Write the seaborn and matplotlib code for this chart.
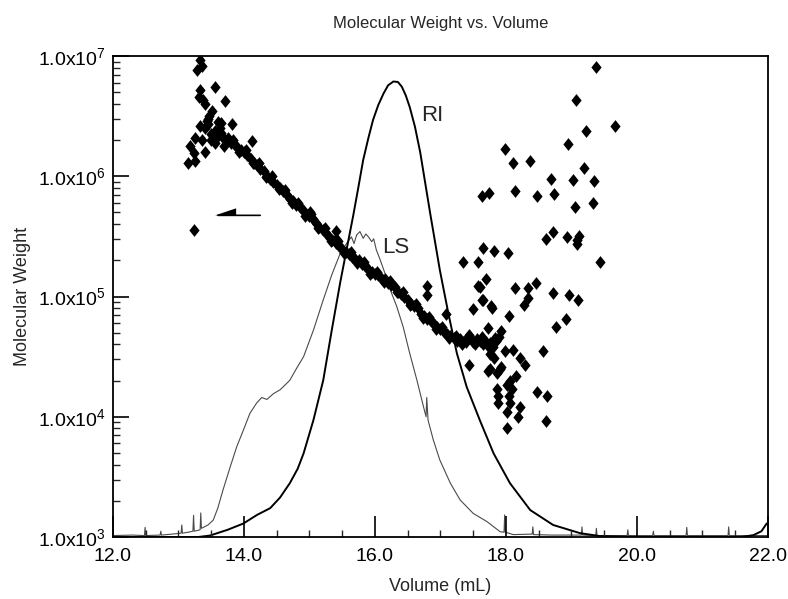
import numpy as np
import pandas as pd
import seaborn as sns
import matplotlib
import matplotlib.pyplot as plt
from matplotlib.ticker import FixedLocator, MultipleLocator, LogLocator, NullFormatter

# %% Data

# RI detector trace (volume in mL, relative signal in % of plot height)
ri_vol = [12.0, 13.30, 13.48, 13.75, 13.99, 14.20, 14.40, 14.55, 14.70, 14.82,
          14.91, 15.06, 15.21, 15.34, 15.47, 15.57, 15.67, 15.75, 15.82, 15.90,
          15.97, 16.05, 16.13, 16.20, 16.28, 16.35, 16.41, 16.47, 16.53, 16.61,
          16.69, 16.84, 16.99, 17.12, 17.25, 17.40, 17.60, 17.81, 18.06, 18.37,
          18.72, 19.13, 19.43, 20.0, 21.0, 21.6, 21.78, 21.90, 21.98]
ri_sig = [0.0, 0.0, 0.3, 1.5, 2.8, 4.6, 6.0, 8.2, 11.2, 14.2,
          17.4, 24.3, 32.6, 43.0, 53.0, 60.0, 67.0, 73.0, 78.4, 83.0,
          86.7, 89.8, 92.2, 93.9, 94.7, 94.6, 93.6, 91.8, 89.4, 85.3,
          80.0, 67.5, 55.5, 46.5, 38.2, 31.2, 24.3, 17.4, 11.2, 5.6,
          2.5, 0.8, 0.2, 0.0, 0.0, 0.0, 0.4, 1.2, 2.8]

# LS detector trace (noisy, with baseline spikes)
ls_vol = [12.00, 12.30, 12.48, 12.49, 12.50, 12.72, 12.73, 12.74, 12.90, 13.04,
          13.05, 13.06, 13.15, 13.22, 13.23, 13.24, 13.33, 13.34, 13.35, 13.45,
          13.53, 13.60, 13.68, 13.79, 13.89, 13.99, 14.09, 14.19, 14.27, 14.35,
          14.45, 14.55, 14.62, 14.70, 14.80, 14.91, 15.06, 15.21, 15.34, 15.47,
          15.57, 15.64, 15.68, 15.72, 15.77, 15.82, 15.86, 15.90, 15.95, 15.98,
          16.02, 16.08, 16.15, 16.23, 16.33, 16.43, 16.53, 16.64, 16.74, 16.78,
          16.79, 16.81, 16.89, 16.99, 17.15, 17.30, 17.50, 17.71, 17.91, 17.97,
          17.98, 17.99, 18.11, 18.40, 18.41, 18.42, 18.70, 19.15, 19.16, 19.17,
          19.37, 19.38, 19.39, 19.85, 19.86, 19.87, 20.24, 20.25, 20.26, 20.75,
          20.76, 20.77, 21.39, 21.40, 21.41, 22.00]
ls_sig = [0.3, 0.4, 0.3, 2.0, 0.3, 0.4, 1.2, 0.4, 0.6, 0.8,
          2.5, 0.8, 1.0, 1.2, 4.5, 1.2, 1.5, 5.0, 1.8, 2.5,
          3.5, 6.0, 9.8, 14.6, 18.8, 22.2, 25.7, 27.8, 29.0, 28.6,
          29.8, 30.6, 31.5, 32.6, 35.0, 37.5, 43.0, 49.3, 54.5, 59.0,
          61.1, 62.4, 61.0, 62.8, 63.5, 62.1, 63.0, 62.4, 61.4, 62.0,
          59.7, 57.6, 54.9, 51.5, 48.0, 43.7, 38.2, 32.6, 27.1, 25.0,
          29.0, 24.3, 20.2, 16.0, 11.2, 7.7, 4.9, 3.2, 1.1, 1.0,
          4.6, 1.0, 0.5, 0.6, 2.1, 0.5, 0.4, 0.4, 2.1, 0.4,
          0.3, 1.8, 0.3, 0.3, 1.5, 0.3, 0.3, 1.2, 0.3, 0.3,
          2.0, 0.3, 0.3, 2.1, 0.3, 0.3]

# Molecular weight points (volume in mL, MW)
mw_vol = [
    # dense band
    13.40, 13.45, 13.50, 13.55, 13.60, 13.65, 13.70, 13.75, 13.80, 13.85,
    13.90, 13.95, 14.00, 14.05, 14.10, 14.15, 14.20, 14.25, 14.30, 14.35,
    14.40, 14.45, 14.50, 14.55, 14.60, 14.65, 14.70, 14.75, 14.80, 14.85,
    14.90, 14.95, 15.00, 15.05, 15.10, 15.15, 15.20, 15.25, 15.30, 15.35,
    15.40, 15.45, 15.50, 15.55, 15.60, 15.65, 15.70, 15.75, 15.80, 15.85,
    15.90, 15.95, 16.00, 16.05, 16.10, 16.15, 16.20, 16.25, 16.30, 16.35,
    16.40, 16.45, 16.50, 16.55, 16.60, 16.65, 16.70, 16.75, 16.80, 16.85,
    16.90, 16.95, 17.00, 17.05, 17.10, 17.15, 17.20, 17.25, 17.30, 17.35,
    17.40, 17.45, 17.50, 17.55, 17.60, 17.65, 17.70, 17.75, 17.80, 17.85,
    17.90, 13.45, 13.55, 13.65, 13.70, 13.50, 13.60,
    # band, second row
    13.43, 13.53, 13.63, 13.73, 13.83, 13.93, 14.03, 14.13, 14.23, 14.33,
    14.43, 14.53, 14.63, 14.73, 14.83, 14.93, 15.03, 15.13, 15.23, 15.33,
    15.43, 15.53, 15.63, 15.73, 15.83, 15.93, 16.03, 16.13, 16.23, 16.33,
    16.43, 16.53, 16.63, 16.73, 16.83, 16.93, 17.03, 17.13, 17.23, 17.33,
    17.43, 17.53, 17.63, 17.73, 17.83,
    # high-MW end
    13.33, 13.28, 13.36, 13.33, 13.31, 13.38, 13.56, 13.71, 13.40, 13.51,
    13.46, 13.81, 13.33, 13.25, 13.18, 13.23, 13.15, 13.25, 13.40, 13.36,
    14.12, 13.23,
    # near band
    15.41, 15.41, 15.01, 16.79, 16.79, 17.09, 17.39,
    # low-MW scatter
    17.34, 17.57, 17.65, 17.81, 18.03, 17.69, 17.58, 17.65, 17.50, 17.78,
    18.04, 17.73, 17.93, 18.13, 18.34, 18.46, 18.34, 18.27, 18.61, 18.72,
    18.93, 19.08, 19.11, 18.72, 18.96, 19.10, 18.77, 18.92, 18.56, 17.98,
    18.11, 18.21, 18.29, 17.44, 17.73, 17.86, 17.93, 18.16, 18.01, 18.09,
    17.86, 17.88, 18.04, 17.88, 18.06, 18.21, 18.01, 18.19, 18.01, 18.47,
    18.62, 18.61, 17.76, 17.64, 17.60, 17.77, 17.81, 17.76, 17.91, 18.06,
    # upper right scatter
    19.38, 19.07, 19.66, 19.22, 18.94, 17.99, 18.11, 18.36, 19.19, 18.68,
    19.03, 19.34, 17.64, 17.74, 18.14, 18.48, 18.74, 19.06, 19.33, 19.44,
    19.08]
mw_val = [
    2.5e6, 2.7e6, 2.25e6, 2.4e6, 2.15e6, 2.3e6, 2.05e6, 2.1e6, 1.9e6, 1.85e6,
    1.75e6, 1.65e6, 1.6e6, 1.5e6, 1.4e6, 1.3e6, 1.25e6, 1.15e6, 1.1e6, 1.0e6,
    9.5e5, 9.0e5, 8.5e5, 8.0e5, 7.5e5, 7.0e5, 6.5e5, 6.2e5, 5.8e5, 5.5e5,
    5.2e5, 4.9e5, 4.7e5, 4.4e5, 4.1e5, 3.8e5, 3.55e5, 3.4e5, 3.15e5, 2.95e5,
    2.8e5, 2.65e5, 2.5e5, 2.35e5, 2.25e5, 2.15e5, 2.05e5, 2.0e5, 1.85e5, 1.8e5,
    1.7e5, 1.6e5, 1.55e5, 1.5e5, 1.4e5, 1.4e5, 1.3e5, 1.25e5, 1.2e5, 1.1e5,
    1.05e5, 1.0e5, 9.3e4, 8.7e4, 8.3e4, 8.0e4, 7.2e4, 6.9e4, 6.5e4, 6.2e4,
    5.9e4, 5.6e4, 5.4e4, 5.1e4, 4.9e4, 4.7e4, 4.5e4, 4.3e4, 4.4e4, 4.2e4,
    4.5e4, 4.6e4, 4.2e4, 4.4e4, 4.3e4, 4.0e4, 4.2e4, 4.1e4, 3.8e4, 4.3e4,
    4.6e4, 3.0e6, 1.9e6, 2.75e6, 1.8e6, 2.0e6, 2.8e6,
    # band, second row
    2.9e6, 2.1e6, 2.5e6, 1.95e6, 2.0e6, 1.6e6, 1.65e6, 1.3e6, 1.3e6, 9.8e5,
    1.0e6, 7.8e5, 7.7e5, 6.0e5, 6.0e5, 4.7e5, 4.9e5, 3.7e5, 3.7e5, 2.9e5,
    2.9e5, 2.3e5, 2.35e5, 1.9e5, 1.95e5, 1.55e5, 1.6e5, 1.33e5, 1.35e5, 1.08e5,
    1.1e5, 8.5e4, 8.7e4, 6.6e4, 6.8e4, 5.4e4, 5.6e4, 4.5e4, 4.7e4, 4.0e4,
    4.8e4, 4.0e4, 4.6e4, 3.9e4, 4.5e4,
    # high-MW end
    9.3e6, 7.6e6, 8.3e6, 5.2e6, 4.6e6, 4.3e6, 5.5e6, 4.2e6, 4.0e6, 3.5e6,
    3.2e6, 2.7e6, 2.6e6, 2.1e6, 1.8e6, 1.55e6, 1.3e6, 1.35e6, 1.6e6, 2.0e6,
    1.95e6, 3.6e5,
    # near band
    3.5e5, 3.0e5, 5.0e5, 1.23e5, 1.02e5, 7.2e4, 4.2e4,
    # low-MW scatter
    1.95e5, 1.95e5, 2.55e5, 2.4e5, 2.3e5, 1.4e5, 1.23e5, 9.3e4, 7.9e4, 8.1e4,
    6.9e4, 5.5e4, 5.2e4, 1.17e5, 1.17e5, 1.29e5, 9.8e4, 8.5e4, 3.0e5, 3.45e5,
    3.1e5, 2.95e5, 3.2e5, 1.07e5, 1.02e5, 9.3e4, 5.6e4, 6.5e4, 3.5e4, 3.5e4,
    3.6e4, 3.1e4, 2.7e4, 2.7e4, 2.4e4, 2.3e4, 2.6e4, 2.2e4, 1.85e4, 1.7e4,
    1.7e4, 1.5e4, 1.5e4, 1.3e4, 1.3e4, 1.2e4, 1.1e4, 1.0e4, 8.0e3, 1.6e4,
    1.5e4, 9.3e3, 3.3e4, 9.3e4, 1.2e5, 8.3e4, 3.1e4, 2.5e4, 2.5e4, 2.0e4,
    # upper right scatter
    8.1e6, 4.3e6, 2.6e6, 2.4e6, 1.86e6, 1.7e6, 1.3e6, 1.35e6, 1.17e6, 9.5e5,
    9.3e5, 9.1e5, 6.8e5, 7.2e5, 7.6e5, 6.9e5, 7.1e5, 5.5e5, 6.0e5, 1.95e5,
    2.75e5]

x_ticks = [12.0, 14.0, 16.0, 18.0, 20.0, 22.0]
y_ticks = [1e3, 1e4, 1e5, 1e6, 1e7]
y_tick_labels = [r'1.0x10$^{3}$', r'1.0x10$^{4}$', r'1.0x10$^{5}$',
                 r'1.0x10$^{6}$', r'1.0x10$^{7}$']

# %% Plot

sns.set_style('ticks')
plt.rcParams['font.family'] = ['Liberation Sans', 'DejaVu Sans']
plt.rcParams['mathtext.default'] = 'regular'

df_ri = pd.DataFrame({'vol': ri_vol, 'sig': ri_sig})
df_ls = pd.DataFrame({'vol': ls_vol, 'sig': ls_sig})
df_mw = pd.DataFrame({'vol': mw_vol, 'mw': mw_val})

fig, ax = plt.subplots(figsize=(7.88, 5.99), dpi=100)
fig.subplots_adjust(left=0.1434, right=0.9746, top=0.9065, bottom=0.1035)

# detector traces on a hidden linear axis
ax2 = ax.twinx()
sns.lineplot(data=df_ls, x='vol', y='sig', ax=ax2, color='#4a4a4a',
             linewidth=0.8, sort=False, estimator=None)
sns.lineplot(data=df_ri, x='vol', y='sig', ax=ax2, color='black',
             linewidth=1.4, sort=False, estimator=None)
ax2.set_ylim(0, 100)
ax2.set_yticks([])
ax2.set_ylabel('')
for sp in ax2.spines.values():
    sp.set_visible(False)

# molecular weight on the log axis, drawn on top
ax.set_zorder(ax2.get_zorder() + 1)
ax.patch.set_visible(False)
diamond = [(0, 1), (0.8, 0), (0, -1), (-0.8, 0), (0, 1)]
sns.scatterplot(data=df_mw, x='vol', y='mw', ax=ax, marker=diamond, s=85,
                color='black', linewidth=0, clip_on=True)
ax.set_yscale('log')
ax.set_xlim(12, 22)
ax.set_ylim(1e3, 1e7)

# axes styling
ax.xaxis.set_major_locator(FixedLocator(x_ticks))
ax.set_xticklabels(['%.1f' % v for v in x_ticks])
ax.xaxis.set_minor_locator(MultipleLocator(0.5))
ax.yaxis.set_major_locator(FixedLocator(y_ticks))
ax.set_yticklabels(y_tick_labels)
ax.yaxis.set_minor_locator(LogLocator(base=10, subs=np.arange(2, 10)))
ax.yaxis.set_minor_formatter(NullFormatter())
ax.tick_params(axis='x', which='major', direction='in', length=15, width=1.2,
               labelsize=14, pad=8, colors='black')
ax.tick_params(axis='x', which='minor', direction='in', length=5, width=1.0)
ax.tick_params(axis='y', which='major', direction='in', length=11.5, width=1.2,
               labelsize=14, pad=5.5, colors='black')
ax.tick_params(axis='y', which='minor', direction='in', length=5, width=1.0)
for sp in ax.spines.values():
    sp.set_visible(True)
    sp.set_linewidth(1.3)
    sp.set_color('black')

ax.set_xlabel('Volume (mL)', fontsize=13)
ax.set_ylabel('Molecular Weight', fontsize=13)
ax.xaxis.set_label_coords(0.5, -0.085)
ax.yaxis.set_label_coords(-0.125, 0.5)
ax.set_title('Molecular Weight vs. Volume', fontsize=12, pad=20)

# trace labels and arrow pointing to the MW axis
ax.text(16.88, 3.2e6, 'RI', fontsize=16, ha='center', va='center')
ax.text(16.32, 2.57e5, 'LS', fontsize=16, ha='center', va='center')
ax.annotate('', xy=(13.56, 4.73e5), xytext=(14.29, 4.73e5),
            arrowprops=dict(arrowstyle='-', lw=1.2, color='black'))
ax.fill([13.56, 13.88, 13.88], [4.73e5, 5.41e5, 4.73e5], color='black', lw=0)

fig.savefig('out.png', dpi=100)
